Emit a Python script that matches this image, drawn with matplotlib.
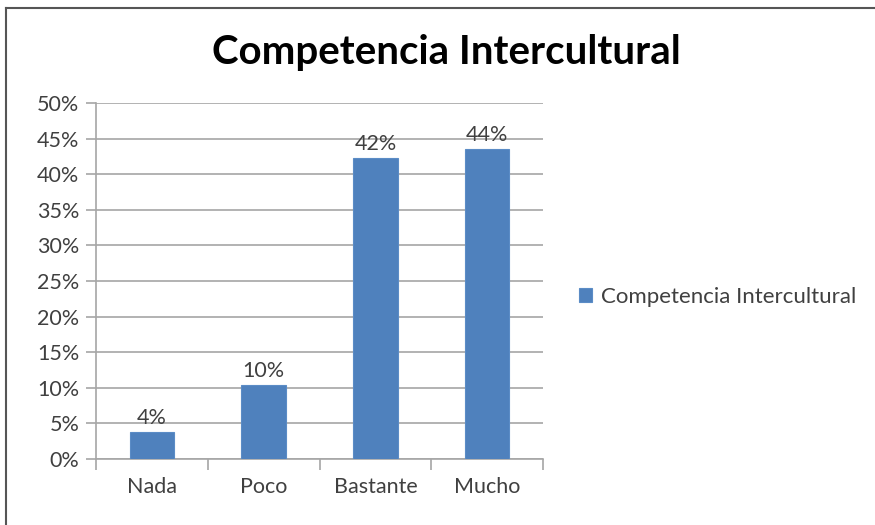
import numpy as np
import matplotlib.pyplot as plt
from matplotlib.lines import Line2D
from matplotlib.ticker import PercentFormatter

plt.rcParams['font.family'] = ['Lato', 'DejaVu Sans']

# data
categories = ['Nada', 'Poco', 'Bastante', 'Mucho']
values = [3.8, 10.4, 42.3, 43.6]
labels = ['4%', '10%', '42%', '44%']
series_name = 'Competencia Intercultural'

bar_color = '#4F81BD'
grid_color = '#A6A6A6'
text_color = '#404040'

fig = plt.figure(figsize=(8.75, 5.25), dpi=100)
ax = fig.add_axes([0.1097, 0.1257, 0.5109, 0.6781])

x = np.arange(len(categories))
bars = ax.bar(x, values, width=0.4, color=bar_color, edgecolor='#5B8CC6',
              linewidth=0.8, label=series_name, zorder=3)

for rect, lab in zip(bars, labels):
    ax.text(rect.get_x() + rect.get_width() / 2, rect.get_height() + 0.5, lab,
            ha='center', va='bottom', fontsize=15.5, color=text_color)

ax.set_xlim(-0.5, len(categories) - 0.5)
ax.set_ylim(0, 50)
ax.set_yticks(np.arange(0, 51, 5))
ax.yaxis.set_major_formatter(PercentFormatter(decimals=0))
ax.yaxis.grid(True, color=grid_color, linewidth=1.2, zorder=0)

# category labels between boundary ticks
ax.set_xticks(np.arange(-0.5, len(categories), 1))
ax.set_xticklabels([])
ax.set_xticks(x, minor=True)
ax.set_xticklabels(categories, minor=True)
ax.tick_params(axis='x', which='major', length=8, color=grid_color, width=1.2)
ax.tick_params(axis='x', which='minor', length=0, pad=13, labelsize=15.5,
               labelcolor=text_color)
ax.tick_params(axis='y', length=7, color=grid_color, width=1.2, pad=5,
               labelsize=15.5, labelcolor=text_color)

for side in ['top', 'right']:
    ax.spines[side].set_visible(False)
for side in ['left', 'bottom']:
    ax.spines[side].set_color(grid_color)
    ax.spines[side].set_linewidth(1.2)

fig.text(0.51, 0.9, 'Competencia Intercultural', ha='center', va='center',
         fontsize=29, fontweight='bold', color='black')

ax.legend(loc='center left', bbox_to_anchor=(1.035, 0.455), frameon=False,
          fontsize=16, handlelength=0.6, handleheight=0.6,
          handletextpad=0.4, labelcolor=text_color)

# chart border (top and left visible)
fig.add_artist(Line2D([0.007, 1.05], [0.985, 0.985], color='#555555', linewidth=1.5))
fig.add_artist(Line2D([0.007, 0.007], [-0.05, 0.985], color='#555555', linewidth=1.5))

fig.savefig('out.png', dpi=100)
